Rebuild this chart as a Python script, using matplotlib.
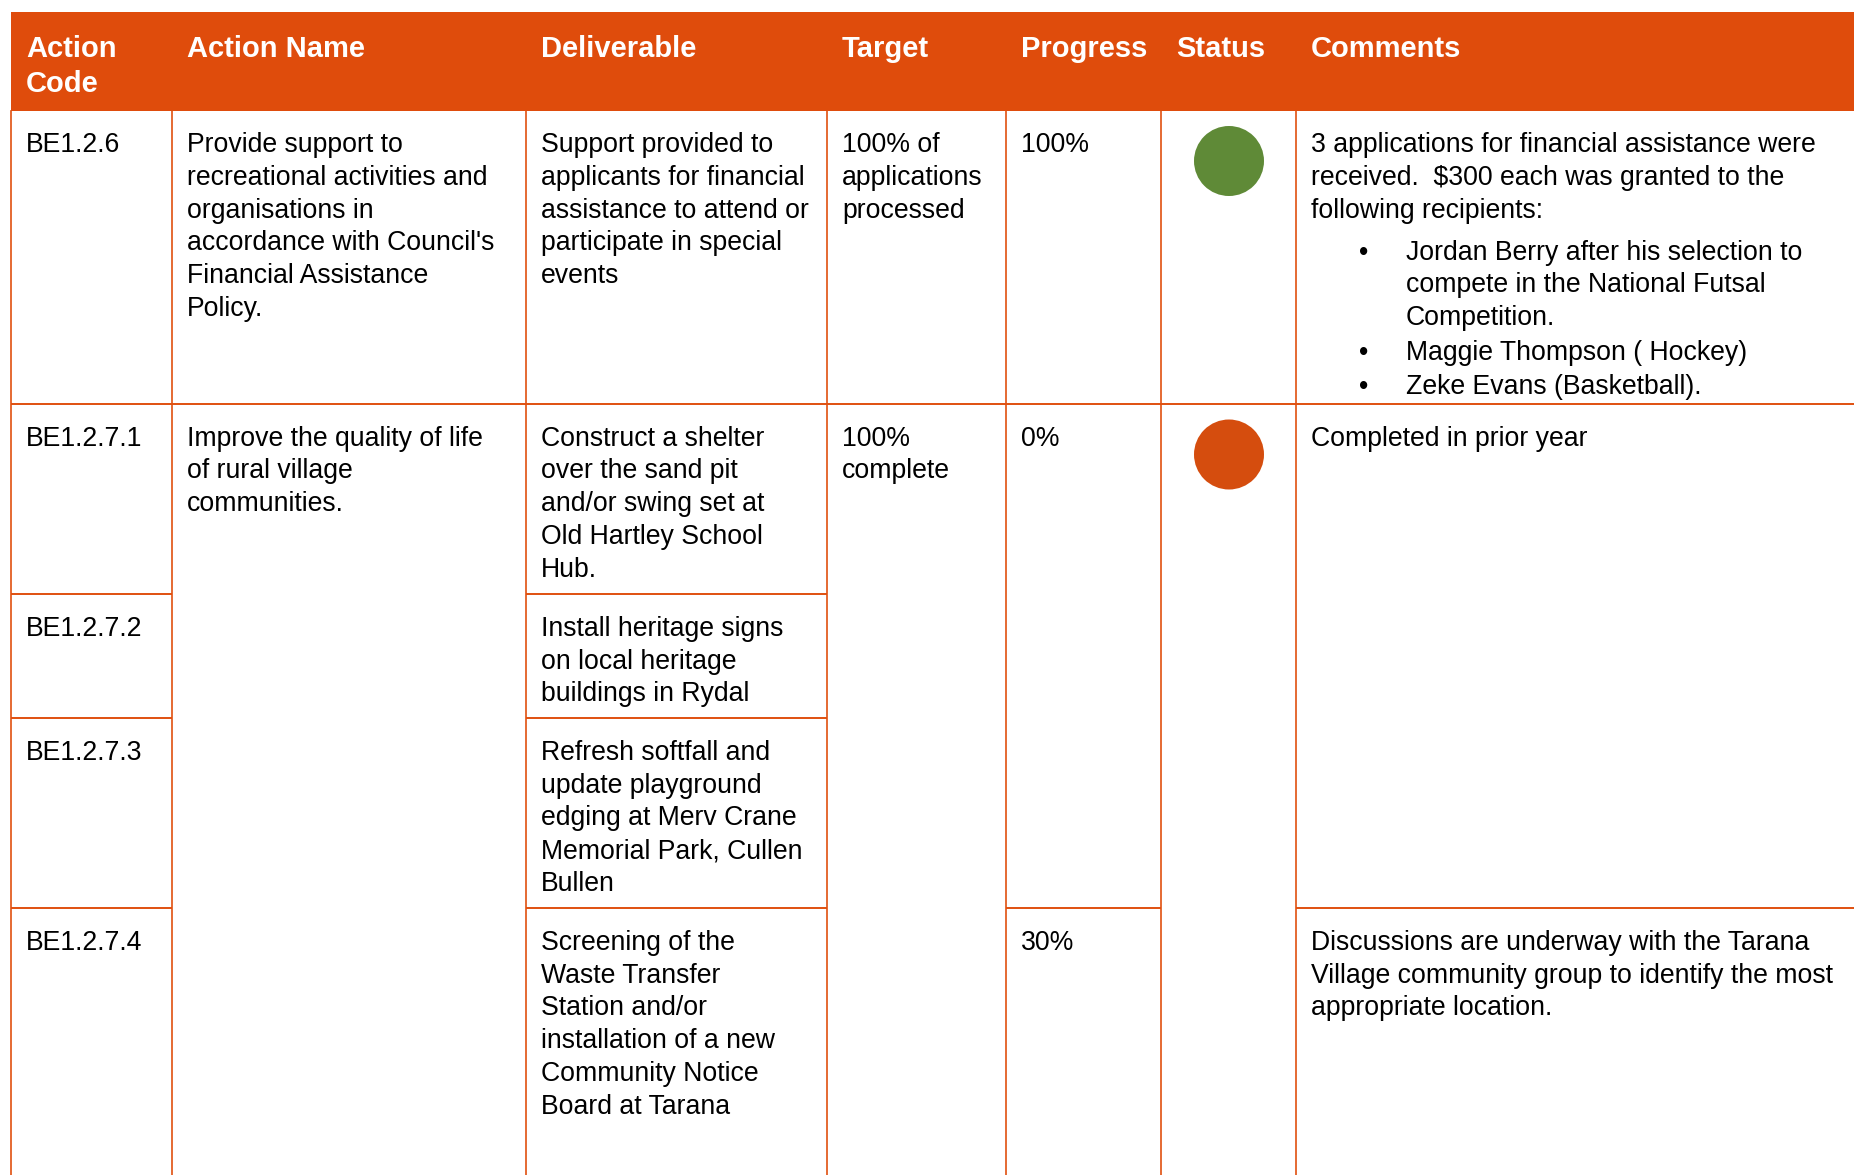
import matplotlib
matplotlib.use("Agg")
import matplotlib.pyplot as plt
import matplotlib.patches as mpatches

# table content
headers = ["Action\nCode", "Action Name", "Deliverable", "Target", "Progress", "Status", "Comments"]

action_codes = ["BE1.2.6", "BE1.2.7.1", "BE1.2.7.2", "BE1.2.7.3", "BE1.2.7.4"]

action_names = [
    "Provide support to\nrecreational activities and\norganisations in\naccordance with Council's\nFinancial Assistance\nPolicy.",
    "Improve the quality of life\nof rural village\ncommunities.",
]
action_name_spans = [(0, 1), (1, 5)]

deliverables = [
    "Support provided to\napplicants for financial\nassistance to attend or\nparticipate in special\nevents",
    "Construct a shelter\nover the sand pit\nand/or swing set at\nOld Hartley School\nHub.",
    "Install heritage signs\non local heritage\nbuildings in Rydal",
    "Refresh softfall and\nupdate playground\nedging at Merv Crane\nMemorial Park, Cullen\nBullen",
    "Screening of the\nWaste Transfer\nStation and/or\ninstallation of a new\nCommunity Notice\nBoard at Tarana",
]

targets = ["100% of\napplications\nprocessed", "100%\ncomplete"]
target_spans = [(0, 1), (1, 5)]

progress = ["100%", "0%", "30%"]
progress_spans = [(0, 1), (1, 4), (4, 5)]

status = ["green", "red"]
status_spans = [(0, 1), (1, 5)]
status_colours = {"green": "#5f8a37", "red": "#d54d0e"}

comment_intro = [
    "3 applications for financial assistance were\nreceived.  $300 each was granted to the\nfollowing recipients:",
    "Completed in prior year",
    "Discussions are underway with the Tarana\nVillage community group to identify the most\nappropriate location.",
]
comment_bullets = [
    ["Jordan Berry after his selection to\ncompete in the National Futsal\nCompetition.",
     "Maggie Thompson ( Hockey)",
     "Zeke Evans (Basketball)."],
    [],
    [],
]
comment_spans = [(0, 1), (1, 4), (4, 5)]

# layout (pixels)
W, H = 1854, 1175
col_x = [11.5, 172.5, 526.5, 827.5, 1006.5, 1161.5, 1296.5, 1854]
header_top, header_bot = 12, 110.5
row_y = [110.5, 404, 594.3, 718.3, 908.3, 1200]
pad_x = 14.5
first_base = 41.5
line_h = 32.8
orange = "#df4c0c"
line_col = "#e0500f"
font = "Liberation Sans"
fs_body = 19.2
fs_head = 21

fig = plt.figure(figsize=(W / 100, H / 100), dpi=100, facecolor="w")
ax = fig.add_axes([0, 0, 1, 1])
ax.set_xlim(0, W)
ax.set_ylim(H, 0)
ax.axis("off")

# header band
ax.add_patch(mpatches.Rectangle((col_x[0], header_top), W - col_x[0], header_bot - header_top,
                                facecolor=orange, edgecolor="none"))
for i, h in enumerate(headers):
    for j, ln in enumerate(h.split("\n")):
        ax.text(col_x[i] + pad_x, 56.7 + j * 35, ln, fontsize=fs_head, fontweight="bold",
                color="w", family=font, va="baseline", ha="left")


def put_lines(x, y0, txt):
    for j, ln in enumerate(txt.split("\n")):
        ax.text(x, y0 + j * line_h, ln, fontsize=fs_body, color="k", family=font,
                va="baseline", ha="left")


def hline(c, y):
    ax.plot([col_x[c], col_x[c + 1]], [y, y], color=line_col, lw=1.4, solid_capstyle="butt")


# vertical lines
for x in col_x[:-1]:
    ax.plot([x, x], [header_bot, H], color=line_col, lw=1.2)

# simple one-per-row columns
for r, code in enumerate(action_codes):
    put_lines(col_x[0] + pad_x, row_y[r] + first_base, code)
    hline(0, row_y[r + 1])
for r, d in enumerate(deliverables):
    put_lines(col_x[2] + pad_x, row_y[r] + first_base, d)
    hline(2, row_y[r + 1])

# merged columns
for c, texts, spans in [(1, action_names, action_name_spans),
                        (3, targets, target_spans),
                        (4, progress, progress_spans)]:
    for t, (a, b) in zip(texts, spans):
        put_lines(col_x[c] + pad_x, row_y[a] + first_base, t)
        hline(c, row_y[b])

for s, (a, b) in zip(status, status_spans):
    cx = (col_x[5] + col_x[6]) / 2
    ax.add_patch(mpatches.Circle((cx, row_y[a] + 50.5), 35, facecolor=status_colours[s],
                                 edgecolor="none"))
    hline(5, row_y[b])

for intro, bullets, (a, b) in zip(comment_intro, comment_bullets, comment_spans):
    x0 = col_x[6] + pad_x
    y = row_y[a] + first_base
    put_lines(x0, y, intro)
    y += (intro.count("\n")) * line_h + 42
    for bt in bullets:
        ax.text(x0 + 48, y, "\u2022", fontsize=fs_body, color="k", family=font,
                va="baseline", ha="left")
        put_lines(x0 + 95, y, bt)
        y += (bt.count("\n")) * line_h + 34.5
    hline(6, row_y[b])

fig.savefig("out.png", dpi=100, facecolor="w")
